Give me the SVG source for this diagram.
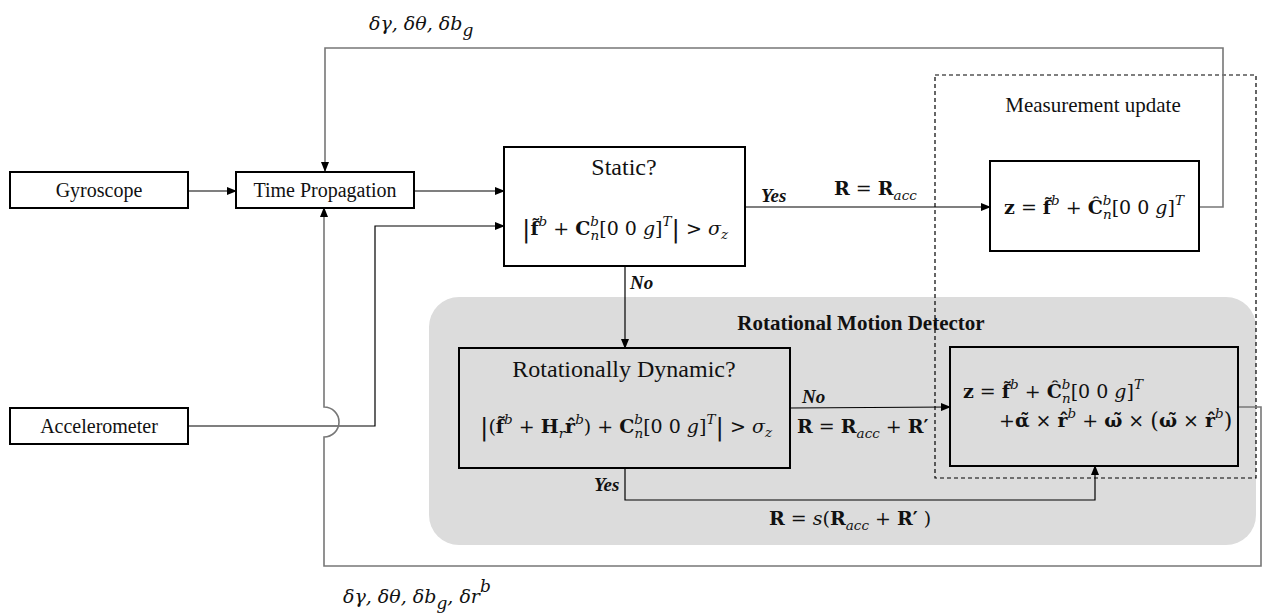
<svg xmlns="http://www.w3.org/2000/svg" width="1262" height="616" viewBox="0 0 1262 616">
<defs>
<marker id="ah" markerWidth="10" markerHeight="8" refX="9" refY="4" orient="auto" markerUnits="userSpaceOnUse">
<path d="M0,0 L10,4 L0,8 Z" fill="#000"/>
</marker>
<style>
.box{fill:#fff;stroke:#000;stroke-width:2}
.boxg{fill:none;stroke:#000;stroke-width:2}
.ln{fill:none;stroke:#000;stroke-width:1.2}
.lg{fill:none;stroke:#777;stroke-width:1.6}
.t{font-family:"Liberation Serif",serif;fill:#111}
.lbl{font-size:20px}
.m{font-family:"DejaVu Serif",serif;font-size:19px;fill:#111}
.b{font-weight:bold}
.i{font-style:italic}
.s{font-size:13.5px}
.yn{font-family:"Liberation Serif",serif;font-size:19px;font-weight:bold;font-style:italic;fill:#111}
</style>
</defs>
<rect width="1262" height="616" fill="#fff"/>
<g id="rotational-motion-detector">
<rect x="429" y="297" width="827" height="248" rx="30" fill="#dcdcdc"/>
<text class="t b" x="861" y="330" text-anchor="middle" font-size="21">Rotational Motion Detector</text>
</g>
<g id="measurement-update">
<rect x="935" y="75" width="321" height="403" fill="none" stroke="#000" stroke-width="1.2" stroke-dasharray="4 3"/>
<text class="t" x="1093" y="112" text-anchor="middle" font-size="21">Measurement update</text>
</g>
<g id="connectors">
<polyline class="lg" points="1199,207 1223,207 1223,48 325,48 325,171" marker-end="url(#ah)"/>
<line class="ln" x1="188" y1="191" x2="236" y2="191" marker-end="url(#ah)"/>
<line class="ln" x1="414" y1="191" x2="504" y2="191" marker-end="url(#ah)"/>
<polyline class="ln" points="188,426 375,426 375,226 504,226" marker-end="url(#ah)"/>
<path class="lg" d="M1238,407 H1261 V566 H324 V437 A15,15 0 0 0 324,407 V208" marker-end="url(#ah)"/>
<line class="ln" x1="625" y1="266" x2="625" y2="348" marker-end="url(#ah)"/>
<line class="ln" x1="745" y1="207" x2="990" y2="207" marker-end="url(#ah)"/>
<line class="ln" x1="790" y1="408" x2="950" y2="407" marker-end="url(#ah)"/>
<polyline class="ln" points="625,468 625,500 1095,500 1095,466" marker-end="url(#ah)"/>
<text class="yn" x="761" y="202">Yes</text>
<text class="m" x="834" y="195"><tspan class="b">R</tspan> = <tspan class="b">R</tspan><tspan class="s i" dy="5">acc</tspan></text>
<text class="yn" x="630" y="289">No</text>
<text class="yn" x="802" y="403">No</text>
<text class="m" x="797" y="433"><tspan class="b">R</tspan> = <tspan class="b">R</tspan><tspan class="s i" dy="5">acc</tspan><tspan dy="-5"> + </tspan><tspan class="b">R′</tspan></text>
<text class="yn" x="594" y="491">Yes</text>
<text class="m" x="769" y="525"><tspan class="b">R</tspan> = <tspan class="i">s</tspan>(<tspan class="b">R</tspan><tspan class="s i" dy="5">acc</tspan><tspan dy="-5"> + </tspan><tspan class="b">R′</tspan> )</text>
<text class="m i" x="369" y="30" font-size="24">δγ, δθ, δb<tspan dy="6" font-size="17">g</tspan></text>
<text class="m i" x="343" y="603" font-size="24">δγ, δθ, δb<tspan dy="6" font-size="17">g</tspan><tspan dy="-6">, δr</tspan><tspan dy="-11" font-size="17">b</tspan></text>
</g>
<g id="gyroscope">
<rect class="box" x="10" y="172" width="178" height="36"/>
<text class="t lbl" x="99" y="197" text-anchor="middle">Gyroscope</text>
</g>
<g id="time-propagation">
<rect class="box" x="236" y="172" width="178" height="36"/>
<text class="t lbl" x="325" y="197" text-anchor="middle">Time Propagation</text>
</g>
<g id="accelerometer">
<rect class="box" x="10" y="408" width="178" height="36"/>
<text class="t lbl" x="99" y="433" text-anchor="middle">Accelerometer</text>
</g>
<g id="static">
<rect class="box" x="504" y="147" width="241" height="119"/>
<text class="t" x="624" y="175" text-anchor="middle" font-size="24">Static?</text>
<text class="m" x="625" y="235" text-anchor="middle"><tspan font-size="25" dy="2">|</tspan><tspan class="b" dy="-2">f&#x303;</tspan><tspan class="s i" dy="-9">b</tspan><tspan dy="9"> + </tspan><tspan class="b">C</tspan><tspan class="s i" dy="-9">b</tspan><tspan class="s i" dx="-8.5" dy="14">n</tspan><tspan dy="-5">[0 0 </tspan><tspan class="i">g</tspan>]<tspan class="s i" dy="-9">T</tspan><tspan dy="11" font-size="25">|</tspan><tspan dy="-2"> &gt; </tspan><tspan class="i">σ</tspan><tspan class="s i" dy="4">z</tspan></text>
</g>
<g id="measurement-box">
<rect class="box" x="990" y="161" width="209" height="90"/>
<text class="m" x="1094" y="214" text-anchor="middle"><tspan class="b">z</tspan> = <tspan class="b">f&#x303;</tspan><tspan class="s i" dy="-9">b</tspan><tspan dy="9"> + </tspan><tspan class="b">&#x108;</tspan><tspan class="s i" dy="-9">b</tspan><tspan class="s i" dx="-8.5" dy="14">n</tspan><tspan dy="-5">[0 0 </tspan><tspan class="i">g</tspan>]<tspan class="s i" dy="-9">T</tspan></text>
</g>
<g id="rotationally-dynamic">
<rect class="boxg" x="459" y="348" width="331" height="120"/>
<text class="t" x="624" y="377" text-anchor="middle" font-size="24">Rotationally Dynamic?</text>
<text class="m" x="626" y="433" text-anchor="middle"><tspan font-size="25" dy="2">|</tspan><tspan dy="-2">(</tspan><tspan class="b">f&#x303;</tspan><tspan class="s i" dy="-9">b</tspan><tspan dy="9"> + </tspan><tspan class="b">H</tspan><tspan class="s i" dy="5">r</tspan><tspan class="b" dy="-5">r&#x302;</tspan><tspan class="s i" dy="-9">b</tspan><tspan dy="9">) + </tspan><tspan class="b">C</tspan><tspan class="s i" dy="-9">b</tspan><tspan class="s i" dx="-8.5" dy="14">n</tspan><tspan dy="-5">[0 0 </tspan><tspan class="i">g</tspan>]<tspan class="s i" dy="-9">T</tspan><tspan dy="11" font-size="25">|</tspan><tspan dy="-2"> &gt; </tspan><tspan class="i">σ</tspan><tspan class="s i" dy="4">z</tspan></text>
</g>
<g id="rotational-measurement-box">
<rect class="boxg" x="950" y="347" width="288" height="119"/>
<text class="m" x="963" y="398"><tspan class="b">z</tspan> = <tspan class="b">f&#x303;</tspan><tspan class="s i" dy="-9">b</tspan><tspan dy="9"> + </tspan><tspan class="b">&#x108;</tspan><tspan class="s i" dy="-9">b</tspan><tspan class="s i" dx="-8.5" dy="14">n</tspan><tspan dy="-5">[0 0 </tspan><tspan class="i">g</tspan>]<tspan class="s i" dy="-9">T</tspan></text>
<text class="m" x="999" y="427" font-size="18">+<tspan class="b">α&#x303;</tspan> × <tspan class="b">r&#x302;</tspan><tspan class="s i" dy="-9">b</tspan><tspan dy="9"> + </tspan><tspan class="b">ω&#x303;</tspan> × <tspan font-size="22" dy="1">(</tspan><tspan class="b" dy="-1">ω&#x303;</tspan> × <tspan class="b">r&#x302;</tspan><tspan class="s i" dy="-9">b</tspan><tspan dy="10" font-size="22">)</tspan></text>
</g>
</svg>
